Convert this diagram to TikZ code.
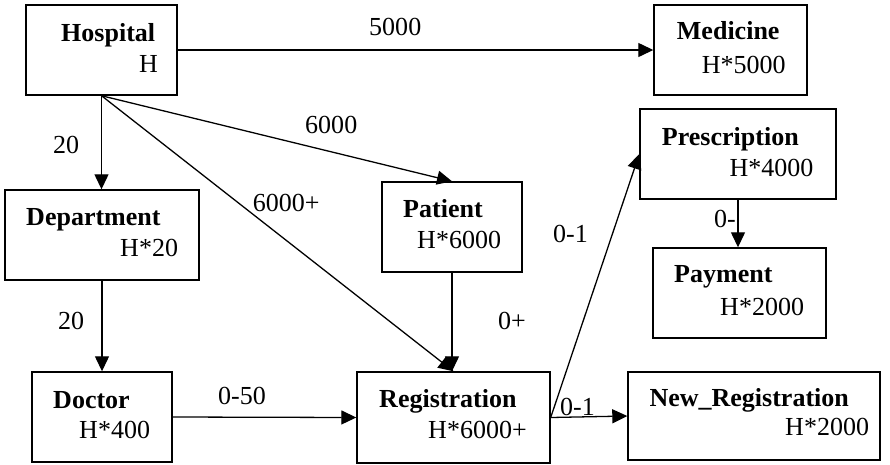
\documentclass[tikz,border=0pt]{standalone}
\usepackage{fontspec}
\setmainfont{Liberation Serif}
\usetikzlibrary{arrows.meta,fit}

\begin{document}
\begin{tikzpicture}[x=0.03cm, y=-0.03cm, >={Triangle[length=0.45cm, width=0.42cm]},
    ent/.style={draw, line width=1.2pt, inner sep=0pt},
    ename/.style={anchor=base west, inner sep=0pt, font=\fontsize{22.2}{26}\selectfont\bfseries},
    esize/.style={anchor=base west, inner sep=0pt, font=\fontsize{22.2}{26}\selectfont},
    card/.style={anchor=base west, inner sep=0pt, font=\fontsize{22.2}{26}\selectfont},
    rel/.style={->, line width=1.1pt}]
  \useasboundingbox (0,0) rectangle (890,464);
  % entity box: name, corner, corner, title, title pos, size, size pos
  \newcommand{\entity}[7]{%
    \node[ent, fit={(#2) (#3)}] (#1) {};
    \node[ename] (#1-t) at (#5) {#4};
    \node[esize] (#1-s) at (#7) {#6};}
  \entity{hosp}{26,5}{177,95}{Hospital}{61,41.7}{H}{139,72.7}
  \entity{med}{654,5}{807,95}{Medicine}{676.7,39.3}{H*5000}{701.7,73.3}
  \entity{dept}{5,190}{199,280}{Department}{26,225.7}{H*20}{120,256}
  \entity{pat}{382,182}{522,272}{Patient}{403,217.7}{H*6000}{417,248.3}
  \entity{presc}{640,109}{836,199}{Prescription}{661.7,145}{H*4000}{729.3,176}
  \entity{pay}{653,248}{826,338}{Payment}{674,282.7}{H*2000}{720,315}
  \entity{doc}{32,372}{172,462}{Doctor}{53,408.3}{H*400}{79,438.3}
  \entity{reg}{357,372}{550,463}{Registration}{379,407.7}{H*6000+}{428,438.3}
  \entity{newreg}{628,372}{880,460}{New\_Registration}{649.3,406}{H*2000}{785,435}
  % relationships
  \draw[rel] (hosp.east) -- (med.west);
  \draw[rel] (hosp.south) -- (hosp.south |- dept.north);
  \draw[rel] (hosp.south) -- (pat.north);
  \draw[rel] (hosp.south) -- (reg.north);
  \draw[rel] (dept.south) -- (dept.south |- doc.north);
  \draw[rel] (pat.south) -- (pat.south |- reg.north);
  \draw[rel] (doc.east) -- (reg.west);
  \draw[rel] (reg.east) -- (presc.west);
  \draw[rel] (reg.east) -- (newreg.west);
  \draw[rel] (presc.south) -- (presc.south |- pay.north);
  % cardinalities
  \node[card] (c-med) at (369,35) {5000};
  \node[card] (c-dept) at (53,153) {20};
  \node[card] (c-pat) at (305,133) {6000};
  \node[card] (c-reg) at (252.7,211.7) {6000+};
  \node[card] (c-doc) at (58,329) {20};
  \node[card] (c-visit) at (218,404) {0-50};
  \node[card] (c-patreg) at (498,329) {0+};
  \node[card] (c-presc) at (553,242.7) {0-1};
  \node[card] (c-newreg) at (560,415) {0-1};
  \node[card] (c-pay) at (714,227) {0-};
\end{tikzpicture}
\end{document}
